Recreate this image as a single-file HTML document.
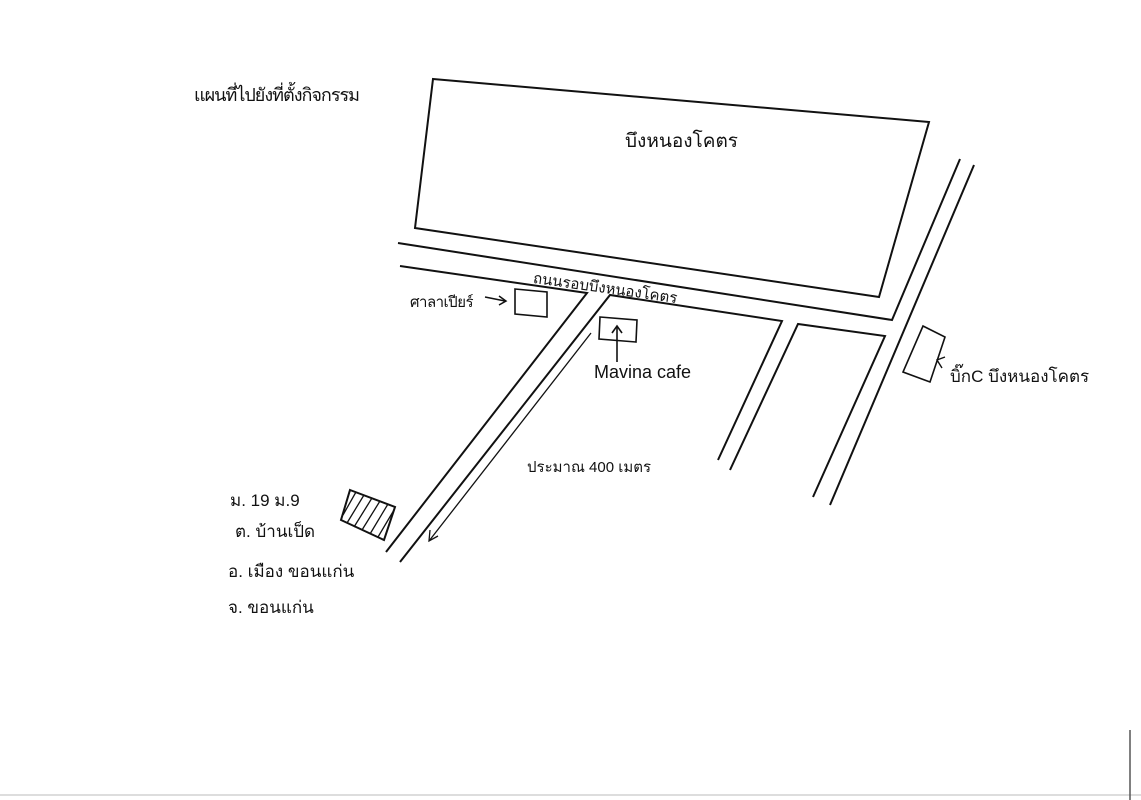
<!DOCTYPE html>
<html><head><meta charset="utf-8"><style>
body{margin:0;background:#fff;width:1141px;height:800px;overflow:hidden;position:relative;font-family:"Liberation Sans","Noto Sans CJK SC",sans-serif}
.t{position:absolute;color:#111;white-space:nowrap;font-family:"Liberation Sans","Noto Sans CJK SC","WenQuanYi Zen Hei",sans-serif}
</style></head><body>
<svg width="1141" height="800" style="position:absolute;left:0;top:0" fill="none" stroke="#111" stroke-width="2">
<polygon points="433,79 929,122 879,297 415,228"/>
<polyline points="398,243 892,320 960,159"/>
<polyline points="400,266 587,293 386,552"/>
<polyline points="400,562 610,295 782,321 718,460"/>
<polyline points="730,470 798,324 885,336 813,497"/>
<line x1="830" y1="505" x2="974" y2="165"/>
<polygon points="515,289 547,292 547,317 515,314" stroke-width="1.6"/>
<polygon points="600,317 637,320 636,342 599,339" stroke-width="1.6"/>
<line x1="617" y1="362" x2="617" y2="326" stroke-width="1.6"/>
<polyline points="612,333 617,326 622,333" stroke-width="1.6"/>
<line x1="591" y1="333" x2="429" y2="541" stroke-width="1.3"/>
<polyline points="430,530 429,541 438,536" stroke-width="1.3"/>
<polygon points="923,326 945,337 930,382 903,372" stroke-width="1.6"/>
<polyline points="945,357 937,360 942,368" stroke-width="1.4"/>
<polygon points="350,490 395,507 384,540 341,520" stroke-width="2"/>
<g stroke-width="1.3">
<line x1="356" y1="492" x2="343" y2="515"/><line x1="364" y1="495" x2="347" y2="523"/>
<line x1="372" y1="498" x2="354" y2="527"/><line x1="380" y1="501" x2="362" y2="530"/>
<line x1="388" y1="504" x2="370" y2="534"/><line x1="394" y1="510" x2="378" y2="537"/>
</g>
<line x1="485" y1="297" x2="505" y2="301" stroke-width="1.5"/>
<polyline points="499,296 506,301 499,305" stroke-width="1.5"/>
<line x1="0" y1="795" x2="1141" y2="795" stroke="#bbb" stroke-width="1"/>
<line x1="1130" y1="730" x2="1130" y2="800" stroke="#555" stroke-width="1.5"/>
</svg>
<div class="t" style="left:194px;top:80px;font-size:18px;letter-spacing:-1px">แผนที่ไปยังที่ตั้งกิจกรรม</div>
<div class="t" style="left:625px;top:126px;font-size:19px">บึงหนองโคตร</div>
<div class="t" style="left:535px;top:266px;font-size:15px;transform:rotate(8deg);transform-origin:left top">ถนนรอบบึงหนองโคตร</div>
<div class="t" style="left:410px;top:290px;font-size:15px;letter-spacing:-0.5px">ศาลาเปียร์</div>
<div class="t" style="left:594px;top:362px;font-size:18px">Mavina cafe</div>
<div class="t" style="left:527px;top:455px;font-size:15px">ประมาณ 400 เมตร</div>
<div class="t" style="left:950px;top:363px;font-size:17px">บิ๊กC บึงหนองโคตร</div>
<div class="t" style="left:230px;top:487px;font-size:17px">ม. 19 ม.9</div>
<div class="t" style="left:235px;top:518px;font-size:17px">ต. บ้านเป็ด</div>
<div class="t" style="left:228px;top:558px;font-size:17px">อ. เมือง ขอนแก่น</div>
<div class="t" style="left:228px;top:594px;font-size:17px">จ. ขอนแก่น</div>
</body></html>
